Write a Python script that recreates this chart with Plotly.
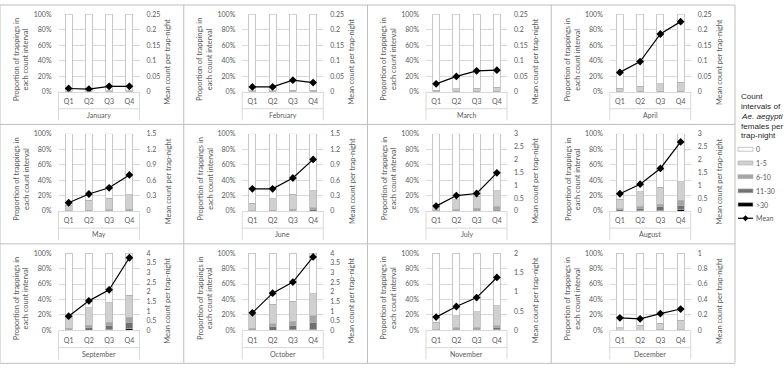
import plotly.graph_objects as go

W, H = 784, 368

months = ["January", "February", "March", "April", "May", "June",
          "July", "August", "September", "October", "November", "December"]
quarters = ["Q1", "Q2", "Q3", "Q4"]

# proportions (%) of trap-nights in each count interval
p_1_5 = [[0.5, 0.5, 1, 1], [1, 1, 1.5, 1.5], [1.7, 3.2, 4, 5.3], [4, 6.5, 9.5, 11.5],
         [7, 12.5, 15, 18.5], [9.5, 14.5, 19, 22], [5, 12.5, 15.5, 20.5], [12.5, 19, 22.2, 24],
         [15, 22.4, 25.2, 29], [17, 24.6, 26.2, 28.5], [9.5, 15.6, 20.6, 26], [3.5, 6.2, 8.5, 12]]
p_6_10 = [[0, 0, 0, 0], [0, 0, 0, 0], [0, 0.2, 0.2, 0.2], [0, 0.2, 0.3, 0.5],
          [0.5, 1, 1, 1.5], [0.5, 1, 2, 2.5], [0.5, 1.5, 2, 3], [1.5, 3, 3.3, 7],
          [1.5, 3, 4.2, 6.3], [1.5, 4, 5.5, 8.5], [0.7, 2, 2.2, 2.6], [0.3, 0.5, 0.7, 1]]
p_11_30 = [[0, 0, 0, 0], [0, 0, 0, 0], [0, 0, 0, 0], [0, 0, 0, 0],
           [0, 0.3, 0.5, 0.8], [0, 0.3, 0.5, 1.5], [0.3, 0.5, 1.3, 2], [1.5, 2.5, 4.5, 5.5],
           [1.2, 3.5, 5.5, 8.5], [1.2, 4.5, 5.3, 9], [0.3, 1.2, 1.3, 2.4], [0, 0, 0, 0]]
p_gt30 = [[0, 0, 0, 0], [0, 0, 0, 0], [0, 0, 0, 0], [0, 0, 0, 0],
          [0, 0, 0, 0], [0, 0, 0, 0], [0, 0, 0, 0.5], [0, 0.5, 1, 1.5],
          [0.3, 0.5, 0.8, 2], [0.3, 0.5, 1, 1.5], [0, 0.2, 0.3, 1], [0, 0, 0, 0]]
mean_count = [[0.010, 0.008, 0.017, 0.017], [0.015, 0.015, 0.037, 0.029],
              [0.025, 0.049, 0.067, 0.069], [0.062, 0.097, 0.186, 0.226],
              [0.16, 0.33, 0.45, 0.70], [0.43, 0.43, 0.64, 1.0],
              [0.19, 0.60, 0.68, 1.48], [0.67, 1.04, 1.65, 2.68],
              [0.74, 1.53, 2.1, 3.76], [0.91, 1.93, 2.5, 3.8],
              [0.345, 0.62, 0.85, 1.37], [0.164, 0.151, 0.218, 0.277]]
right_max = [0.25, 0.25, 0.25, 0.25, 1.5, 1.5, 3, 3, 4, 4, 2, 1]
right_step = [0.05, 0.05, 0.05, 0.05, 0.3, 0.3, 0.5, 0.5, 0.5, 0.5, 0.5, 0.2]

interval_names = ["0", "1-5", "6-10", "11-30", ">30"]
interval_colors = ["#ffffff", "#d0d0d0", "#a5a5a5", "#707070", "#000000"]
legend_title = ["Count", "intervals of", "<i>Ae. aegypti</i>", "females per", "trap-night"]

FONT = "Lato"
TXT = "#595959"
GRID = "#d9d9d9"
BORDER = "#bfbfbf"
OUTLINE = "#b0b0b0"

CW, CH = 183.75, 122.1
PX0, PX1 = 58.5, 139.5
PY0, PY1 = 9.4, 88.5


def px(x):
    return x / W


def py(y):
    return 1 - y / H


fig = go.Figure()
layout = {}
shapes = []
annos = []

for i, m in enumerate(months):
    r, c = divmod(i, 4)
    x0, y0 = c * CW, r * CH
    xa = "x" if i == 0 else f"x{i + 1}"
    ya1 = f"y{2 * i + 1}" if i > 0 else "y"
    ya2 = f"y{2 * i + 2}"
    xkey = "xaxis" if i == 0 else f"xaxis{i + 1}"
    y1key = "yaxis" if i == 0 else f"yaxis{2 * i + 1}"
    y2key = f"yaxis{2 * i + 2}"

    segs = [p_gt30[i], p_11_30[i], p_6_10[i], p_1_5[i]]
    zero = [100 - sum(v[k] for v in segs) for k in range(4)]
    stack = [zero, p_1_5[i], p_6_10[i], p_11_30[i], p_gt30[i]]
    order = [4, 3, 2, 1, 0]  # bottom to top: >30, 11-30, 6-10, 1-5, 0
    for j in order:
        fig.add_trace(go.Bar(
            x=quarters, y=[v / 100 for v in stack[j]], xaxis=xa, yaxis=ya1,
            marker=dict(color=interval_colors[j], line=dict(color=OUTLINE, width=0.7)),
            width=0.34, showlegend=False, name=interval_names[j], hoverinfo="skip"))
    fig.add_trace(go.Scatter(
        x=quarters, y=mean_count[i], xaxis=xa, yaxis=ya2, mode="lines+markers",
        line=dict(color="#000000", width=1.2),
        marker=dict(symbol="diamond", size=6, color="#000000"),
        showlegend=False, name="Mean"))

    layout[xkey] = dict(
        domain=[px(x0 + PX0), px(x0 + PX1)], anchor=ya1, type="category",
        range=[-0.5, 3.5], showgrid=False, showline=True, linecolor=GRID, linewidth=1,
        ticks="", tickfont=dict(family=FONT, size=7, color=TXT), ticklabelstandoff=3,
        fixedrange=True)
    layout[y1key] = dict(
        domain=[py(y0 + PY1), py(y0 + PY0)], anchor=xa, range=[0, 1], dtick=0.2,
        tickformat=".0%", showgrid=True, gridcolor=GRID, gridwidth=1, zeroline=False,
        showline=False, ticks="", tickfont=dict(family=FONT, size=7, color=TXT),
        ticklabelstandoff=6, fixedrange=True)
    layout[y2key] = dict(
        domain=[py(y0 + PY1), py(y0 + PY0)], anchor=xa, overlaying=ya1, side="right",
        range=[0, right_max[i]], dtick=right_step[i], showgrid=False, zeroline=False,
        showline=False, ticks="", tickfont=dict(family=FONT, size=7, color=TXT),
        ticklabelstandoff=6, fixedrange=True)

    # multi-level category lines
    for xx in (x0 + PX0, x0 + PX1):
        shapes.append(dict(type="line", xref="paper", yref="paper",
                           x0=px(xx), x1=px(xx), y0=py(y0 + PY1), y1=py(y0 + 118),
                           line=dict(color=GRID, width=1)))
    shapes.append(dict(type="line", xref="paper", yref="paper",
                       x0=px(x0 + PX0), x1=px(x0 + PX1), y0=py(y0 + 106), y1=py(y0 + 106),
                       line=dict(color=GRID, width=1)))
    annos.append(dict(text=m, x=px(x0 + (PX0 + PX1) / 2), y=py(y0 + 112.5), xref="paper",
                      yref="paper", showarrow=False, xanchor="center", yanchor="middle",
                      font=dict(family=FONT, size=7, color=TXT)))
    annos.append(dict(text="Proportion of trappings in<br>each count interval",
                      x=px(x0 + 21.5), y=py(y0 + 56), xref="paper", yref="paper",
                      showarrow=False, textangle=-90, xanchor="center", yanchor="middle",
                      font=dict(family=FONT, size=7.4, color=TXT)))
    annos.append(dict(text="Mean count per trap-night",
                      x=px(x0 + 168), y=py(y0 + 58), xref="paper", yref="paper",
                      showarrow=False, textangle=-90, xanchor="center", yanchor="middle",
                      font=dict(family=FONT, size=7.4, color=TXT)))

# cell borders
for c in range(5):
    shapes.append(dict(type="line", xref="paper", yref="paper", x0=px(c * CW), x1=px(c * CW),
                       y0=py(0), y1=py(3 * CH), line=dict(color=BORDER, width=1)))
for r in range(4):
    shapes.append(dict(type="line", xref="paper", yref="paper", x0=px(0), x1=px(4 * CW),
                       y0=py(r * CH), y1=py(r * CH), line=dict(color=BORDER, width=1)))

# legend
for k, t in enumerate(legend_title):
    annos.append(dict(text=t, x=px(738.5), y=py(94 + 9.9 * k), xref="paper", yref="paper",
                      showarrow=False, xanchor="left", yanchor="middle", align="left",
                      font=dict(family="Liberation Sans", size=8.1, color="#262626")))
leg_y = [147.5, 161.5, 175.5, 190, 204]
for name, col, ly in zip(interval_names, interval_colors, leg_y):
    shapes.append(dict(type="rect", xref="paper", yref="paper", x0=px(738), x1=px(753),
                       y0=py(ly - 2), y1=py(ly + 2), fillcolor=col,
                       line=dict(color=OUTLINE, width=0.7)))
    annos.append(dict(text=name, x=px(754), y=py(ly), xref="paper", yref="paper",
                      showarrow=False, xanchor="left", yanchor="middle",
                      font=dict(family=FONT, size=7, color=TXT)))
my = 218
shapes.append(dict(type="line", xref="paper", yref="paper", x0=px(738), x1=px(753),
                   y0=py(my), y1=py(my), line=dict(color="#000000", width=1.2)))
d = 3
shapes.append(dict(type="path", xref="paper", yref="paper",
                   path=f"M {px(745.5)},{py(my - d)} L {px(745.5 + d)},{py(my)} "
                        f"L {px(745.5)},{py(my + d)} L {px(745.5 - d)},{py(my)} Z",
                   fillcolor="#000000", line=dict(color="#000000", width=0)))
annos.append(dict(text="Mean", x=px(754), y=py(my), xref="paper", yref="paper",
                  showarrow=False, xanchor="left", yanchor="middle",
                  font=dict(family=FONT, size=7, color=TXT)))

fig.update_layout(
    width=W, height=H, margin=dict(l=0, r=0, t=0, b=0),
    paper_bgcolor="#ffffff", plot_bgcolor="rgba(0,0,0,0)",
    barmode="stack", shapes=shapes, annotations=annos, hovermode=False,
    font=dict(family=FONT, color=TXT), **layout)

fig.write_html("out.html", config={"displayModeBar": False, "staticPlot": True},
               post_script="document.body.style.margin='0';"
                           "document.body.style.overflow='hidden';")
